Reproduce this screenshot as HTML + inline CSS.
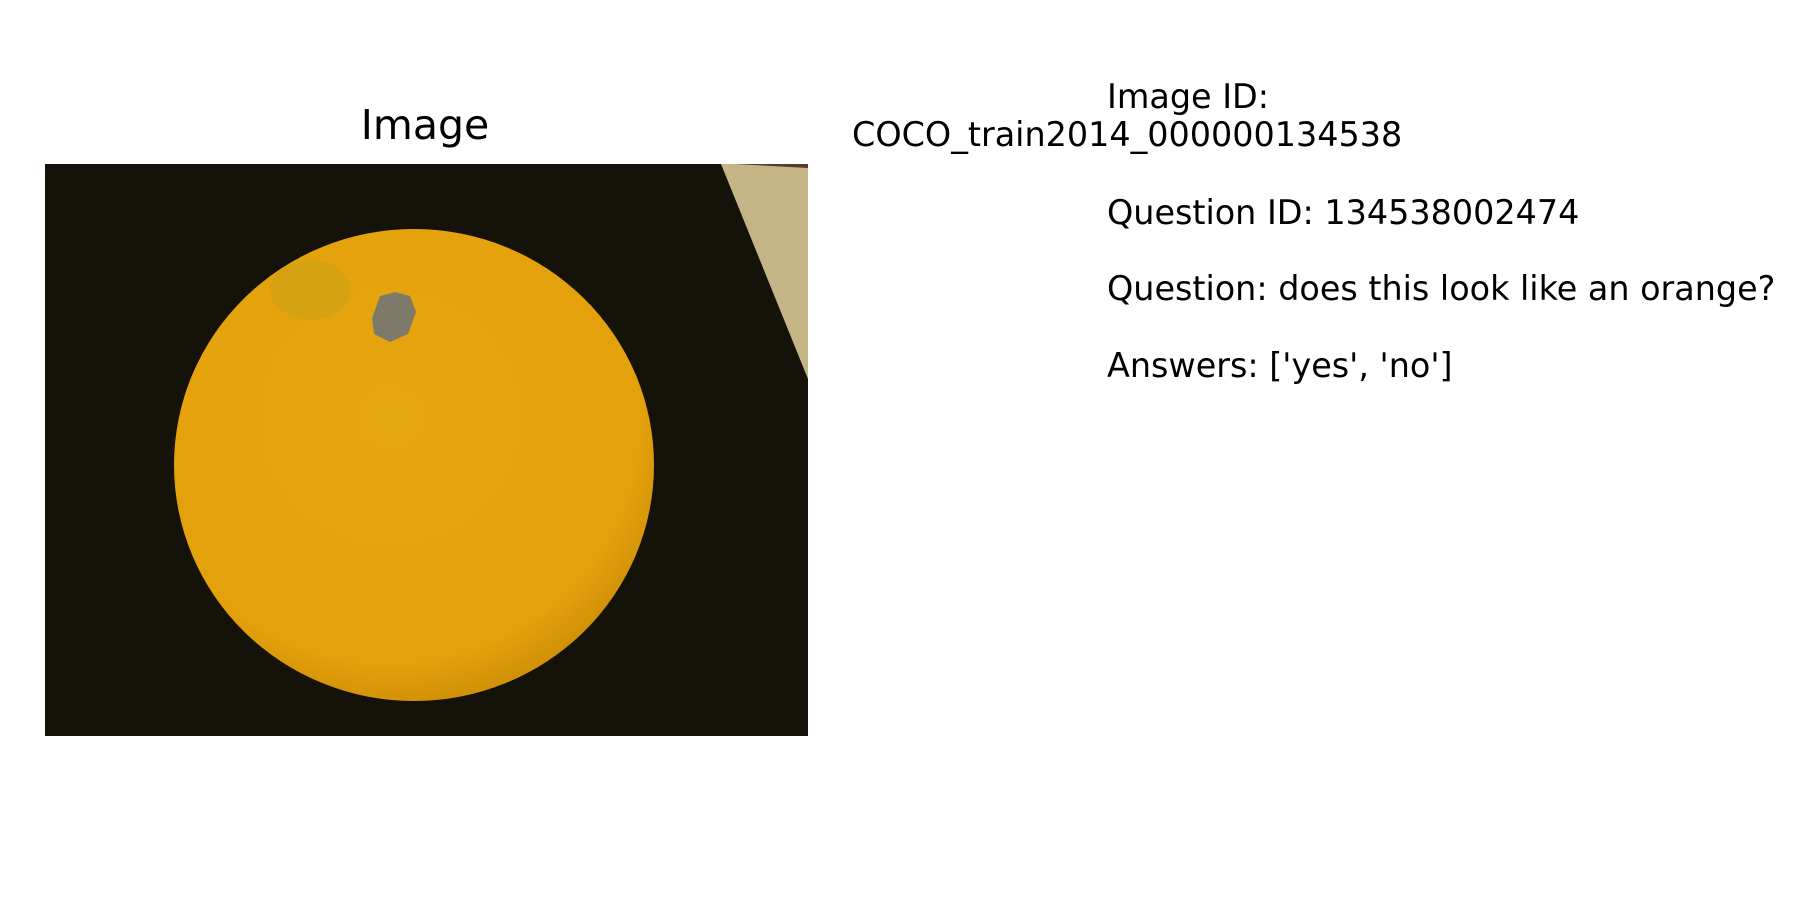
<!DOCTYPE html>
<html><head><meta charset="utf-8"><style>
html,body{margin:0;padding:0;background:#fff;width:1800px;height:900px;overflow:hidden}
text{font-family:"DejaVu Sans","Liberation Sans",sans-serif;fill:#000}
</style></head><body>
<svg width="1800" height="900" viewBox="0 0 1800 900">
<defs>
<radialGradient id="og" cx="0.45" cy="0.4" r="0.65">
<stop offset="0" stop-color="#e6a610"/><stop offset="0.8" stop-color="#e3a10b"/><stop offset="1" stop-color="#c98a06"/>
</radialGradient>
</defs>
<text x="425" y="139" font-size="41" text-anchor="middle">Image</text>
<g>
<rect x="45" y="164" width="763" height="572" fill="#15120a"/>
<polygon points="721,164 808,164 808,379" fill="#c4b486"/>
<polygon points="735,164 808,164 808,168" fill="#5a3a30"/>
<ellipse cx="414" cy="465" rx="240" ry="236" fill="url(#og)"/>
<ellipse cx="310" cy="290" rx="40" ry="30" fill="#b9a020" opacity="0.35"/>
<path d="M372,318 L380,296 L395,292 L410,296 L416,312 L408,334 L390,342 L374,334 Z" fill="#7d7a6a"/>
</g>
<g>
<text x="1107" y="108" font-size="33.4">Image ID:</text>
<text x="852" y="146" font-size="33.4">COCO_train2014_000000134538</text>
<text x="1107" y="224" font-size="33.4">Question ID: 134538002474</text>
<text x="1107" y="300" font-size="33.4">Question: does this look like an orange?</text>
<text x="1107" y="377" font-size="33.4">Answers: ['yes', 'no']</text>
</g>
</svg>
</body></html>
